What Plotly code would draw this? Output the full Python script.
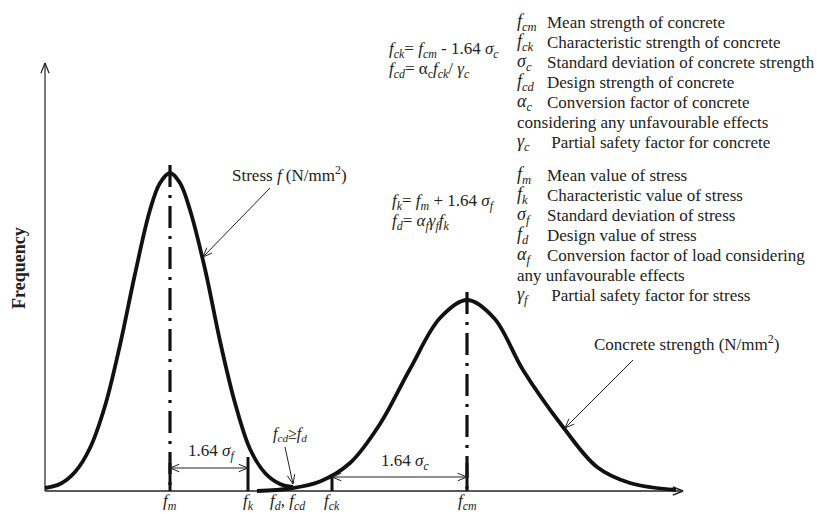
import math
import plotly.graph_objects as go

# ---- values (x position, frequency height) ----
stress_x = [45, 60, 75, 90, 105, 120, 135, 150, 160, 170, 180, 190, 205, 220, 235, 250, 265, 280, 293]
stress_y = [3, 7, 19, 43, 85, 146, 217, 281, 308, 318, 308, 281, 222, 150, 88, 42, 18, 7, 4]

concrete_x = [257, 290, 320, 350, 380, 410, 440, 467, 494, 523, 563, 597, 630, 676]
concrete_y = [0, 2.5, 9.5, 28, 67, 122, 173, 191, 173, 121, 64, 24, 8, 1]

f_m, f_k, f_d, f_ck, f_cm = 170, 248, 257, 332, 467
mean_top = [326, 199]          # top of the dash-dot mean lines
tick_x = [170, 248, 287, 332, 467]
tick_text = ["<i>f<sub>m</sub></i>", "<i>f<sub>k</sub></i>",
             "<i>f<sub>d</sub></i>, <i>f<sub>cd</sub></i>",
             "<i>f<sub>ck</sub></i>", "<i>f<sub>cm</sub></i>"]

# (symbol, description); None symbol = continuation line
concrete_notes = [
    ("<i>f<sub>cm</sub></i>", "Mean strength of concrete"),
    ("<i>f<sub>ck</sub></i>", "Characteristic strength of concrete"),
    ("<i>σ<sub>c</sub></i>", "Standard deviation of concrete strength"),
    ("<i>f<sub>cd</sub></i>", "Design strength of concrete"),
    ("<i>α<sub>c</sub></i>", "Conversion factor of concrete"),
    (None, "considering any unfavourable effects"),
    ("<i>γ<sub>c</sub></i>", " Partial safety factor for concrete"),
]
stress_notes = [
    ("<i>f<sub>m</sub></i>", "Mean value of stress"),
    ("<i>f<sub>k</sub></i>", "Characteristic value of stress"),
    ("<i>σ<sub>f</sub></i>", "Standard deviation of stress"),
    ("<i>f<sub>d</sub></i>", "Design value of stress"),
    ("<i>α<sub>f</sub></i>", "Conversion factor of load considering"),
    (None, "any unfavourable effects"),
    ("<i>γ<sub>f</sub></i>", " Partial safety factor for stress"),
]
concrete_formulas = [
    "<i>f<sub>ck</sub></i>= <i>f<sub>cm</sub></i> - 1.64 <i>σ<sub>c</sub></i>",
    "<i>f<sub>cd</sub></i>= α<sub>c</sub><i>f<sub>ck</sub></i>/ <i>γ<sub>c</sub></i>",
]
stress_formulas = [
    "<i>f<sub>k</sub></i>= <i>f<sub>m</sub></i> + 1.64 <i>σ<sub>f</sub></i>",
    "<i>f<sub>d</sub></i>= <i>α<sub>f</sub>γ<sub>f</sub>f<sub>k</sub></i>",
]

FONT = "Liberation Serif, Times New Roman, serif"
BASE = 491  # pixel row of the x axis

fig = go.Figure()


def line(xs, ys, width=1, color="#222", dash=None, shape="linear"):
    fig.add_trace(go.Scatter(x=xs, y=ys, mode="lines", hoverinfo="skip",
                             showlegend=False,
                             line=dict(color=color, width=width, dash=dash, shape=shape)))


def vhead(tx, ty, fx, fy, length=10, ang=22, width=1, color="#222"):
    # open V arrow head at (tx, ty), pointing away from (fx, fy)
    d = math.atan2(fy - ty, fx - tx)
    xs, ys = [], []
    for s in (1, -1):
        a = d + s * math.radians(ang)
        xs.append(tx + length * math.cos(a))
        ys.append(ty + length * math.sin(a))
    line([xs[0], tx, xs[1]], [ys[0], ty, ys[1]], width=width, color=color)


def arrow(fx, fy, tx, ty, width=1, head=10):
    line([fx, tx], [fy, ty], width=width)
    vhead(tx, ty, fx, fy, length=head, width=width)


# axes
arrow(45, 0, 45, BASE - 63, width=1.2, head=11)
arrow(45, 0, 683, 0, width=1.6, head=11)

# mean lines (dash-dot)
for xm, top in zip([f_m, f_cm], mean_top):
    line([xm, xm], [top, 0], width=3.2, color="#111", dash="22px,8px,3px,8px")

# curves
line(stress_x, stress_y, width=3.8, color="#111", shape="spline")
line(concrete_x, concrete_y, width=3.8, color="#111", shape="spline")

# extension lines
for xe, he in [(f_m, 28), (f_k, 34), (f_ck, 17), (f_cm, 28)]:
    line([xe, xe], [0, he], width=3, color="#111")

# dimension arrows
line([f_m, f_k], [23, 23], width=1)
vhead(f_m, 23, f_k, 23)
vhead(f_k, 23, f_m, 23)
line([f_ck, f_cm], [14, 14], width=1)
vhead(f_ck, 14, f_cm, 14)
vhead(f_cm, 14, f_ck, 14)

# leader arrows
arrow(270, BASE - 188, 203, BASE - 257)
arrow(633, BASE - 360, 565, BASE - 428)
arrow(285, BASE - 447, 293, BASE - 484)

ann = []


def text(x, y, s, size=17, anchor="left", **kw):
    ann.append(dict(x=x, y=BASE - y, text=s, showarrow=False, xanchor=anchor,
                    yanchor="middle", borderpad=0,
                    font=dict(family=FONT, size=size, color="#222"), **kw))


def notes(rows, y0):
    for i, (sym, desc) in enumerate(rows):
        y = y0 + 20 * i
        if sym is None:
            text(516, y, desc)
        else:
            text(516, y, sym, size=18)
            text(546, y, desc)


notes(concrete_notes, 22)
notes(stress_notes, 175)
for i, s in enumerate(concrete_formulas):
    text(388, 50 + 20 * i, s, size=17)
for i, s in enumerate(stress_formulas):
    text(391, 202 + 20 * i, s, size=17)

for xt, s in zip(tick_x, tick_text):
    text(xt, 502, s, size=17, anchor="center")

text(231, 174, "Stress <i>f</i> (N/mm<sup>2</sup>)", size=17)
text(593, 343, "Concrete strength (N/mm<sup>2</sup>)", size=17)
text(211, 452, "1.64 <i>σ<sub>f</sub></i>", size=17, anchor="center")
text(405, 462, "1.64 <i>σ<sub>c</sub></i>", size=17, anchor="center")
text(290, 434, "<i>f<sub>cd</sub></i>≥<i>f<sub>d</sub></i>", size=16, anchor="center")
text(19, 268, "<b>Frequency</b>", size=18, anchor="center", textangle=-90)

fig.update_layout(
    width=820, height=513,
    margin=dict(l=0, r=0, t=0, b=0),
    paper_bgcolor="white", plot_bgcolor="white",
    xaxis=dict(range=[0, 820], visible=False, fixedrange=True),
    yaxis=dict(range=[BASE - 513, BASE], visible=False, fixedrange=True),
    annotations=ann,
    showlegend=False,
)

fig.write_html("out.html", config={"displayModeBar": False},
               post_script="document.body.style.margin='0';")
